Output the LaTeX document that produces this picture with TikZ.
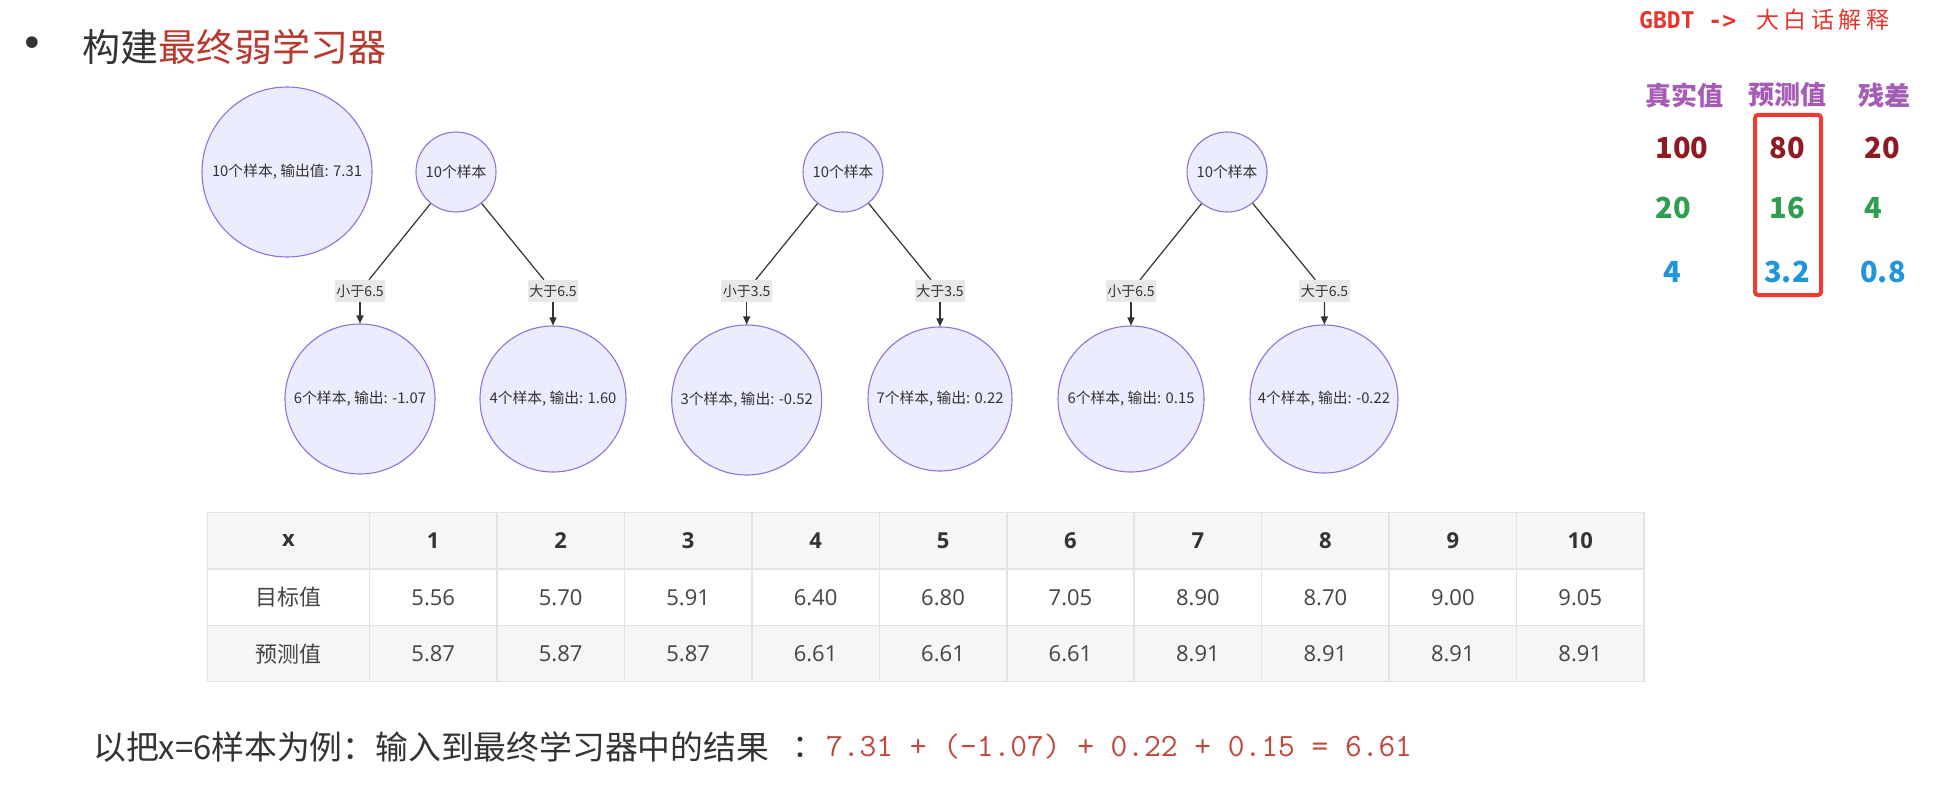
\documentclass[tikz,border=0pt]{standalone}
\usepackage{fontspec}
\setmainfont{Noto Sans CJK SC}
\newfontfamily\osans{Open Sans}
\newfontfamily\dvmono{DejaVu Sans Mono}
\newfontfamily\dvsans{DejaVu Sans}
\newfontfamily\lmmono{Latin Modern Mono}
\usetikzlibrary{arrows.meta}
\newcommand\setfs[1]{\fontsize{#1}{#1}\selectfont}
\definecolor{mstroke}{HTML}{9370DB}
\definecolor{mfill}{HTML}{ECECFF}
\definecolor{lblfill}{HTML}{E8E8E8}
\definecolor{ink}{HTML}{333333}
\definecolor{titlered}{HTML}{B8392E}
\definecolor{formred}{HTML}{C2473D}
\definecolor{gbdtred}{HTML}{E8342B}
\definecolor{hdrpurple}{HTML}{A55CB5}
\definecolor{dred}{HTML}{8E1B24}
\definecolor{dgreen}{HTML}{2E9E50}
\definecolor{dblue}{HTML}{1F96DA}
\definecolor{boxred}{HTML}{EF3B32}
\definecolor{tblgray}{HTML}{F6F6F6}
\definecolor{tblline}{HTML}{E3E3E3}
\definecolor{tbltext}{HTML}{444444}
\begin{document}
\begin{tikzpicture}[x=1pt,y=-1pt,
  circ/.style={circle, draw=mstroke, fill=mfill, line width=1.1pt, inner sep=0pt, text=ink, font=\setfs{14.8}},
  lbl/.style={fill=lblfill, inner xsep=1.5pt, inner ysep=0pt, minimum height=22pt, text=ink, font=\setfs{14}},
  edge/.style={draw=ink, line width=1.2pt},
  arr/.style={edge, -{Triangle[length=8pt,width=7pt]}},
  hdr/.style={text=hdrpurple, font=\bfseries\setfs{26}, inner sep=0pt},
  val/.style={font=\bfseries\setfs{29}, inner sep=0pt},
  cell/.style={font=\osans\setfs{22}, text=tbltext, inner sep=0pt},
  hcell/.style={font=\osans\bfseries\setfs{22}, text=ink, inner sep=0pt}
]
\useasboundingbox[fill=white] (0,0) rectangle (1936,797);

% title
\node[text=ink, font=\dvsans\setfs{40}, inner sep=0pt] (bullet) at (32,47) {•};
\node[anchor=west, font=\setfs{38}, inner sep=0pt] (title) at (82,47) {\textcolor{ink}{构建}\textcolor{titlered}{最终弱学习器}};

% initial node
\node[circ, minimum size=170pt] (big) at (287,172) {10个样本, 输出值: 7.31};

% tree 1
\node[circ, minimum size=80pt] (r1) at (456,172) {10个样本};
\node[lbl] (l1) at (360,291) {小于6.5};
\node[lbl] (l2) at (553,291) {大于6.5};
\node[circ, minimum size=150pt] (a1) at (360,399) {6个样本, 输出: -1.07};
\node[circ, minimum size=146pt] (a2) at (553,399) {4个样本, 输出: 1.60};
\draw[edge] (r1) -- (l1);
\draw[edge] (r1) -- (l2);
\draw[arr] (l1) -- (a1);
\draw[arr] (l2) -- (a2);

% tree 2
\node[circ, minimum size=80pt] (r2) at (843,172) {10个样本};
\node[lbl] (l3) at (746.7,291) {小于3.5};
\node[lbl] (l4) at (940,291) {大于3.5};
\node[circ, minimum size=150pt] (b1) at (746.7,400) {3个样本, 输出: -0.52};
\node[circ, minimum size=144pt] (b2) at (940,399) {7个样本, 输出: 0.22};
\draw[edge] (r2) -- (l3);
\draw[edge] (r2) -- (l4);
\draw[arr] (l3) -- (b1);
\draw[arr] (l4) -- (b2);

% tree 3
\node[circ, minimum size=80pt] (r3) at (1227,172) {10个样本};
\node[lbl] (l5) at (1131,291) {小于6.5};
\node[lbl] (l6) at (1324.5,291) {大于6.5};
\node[circ, minimum size=146pt] (c1) at (1131,399) {6个样本, 输出: 0.15};
\node[circ, minimum size=148pt] (c2) at (1324,399) {4个样本, 输出: -0.22};
\draw[edge] (r3) -- (l5);
\draw[edge] (r3) -- (l6);
\draw[arr] (l5) -- (c1);
\draw[arr] (l6) -- (c2);

% right panel
\node[anchor=west, inner sep=0pt, text=gbdtred] (gbdt) at (1639,20)
  {{\dvmono\bfseries\setfs{23}GBDT ->}\hspace{20pt}{\setfs{23}大\hspace{4.5pt}白\hspace{4.5pt}话\hspace{4.5pt}解\hspace{4.5pt}释}};
\node[hdr] (h1) at (1684,95) {真实值};
\node[hdr] (h2) at (1787.5,95) {预测值};
\node[hdr] (h3) at (1884,95) {残差};
\node[val, text=dred] (v11) at (1682,148) {100};
\node[val, text=dred] (v12) at (1787,148) {80};
\node[val, text=dred] (v13) at (1882,148) {20};
\node[val, text=dgreen] (v21) at (1673,208) {20};
\node[val, text=dgreen] (v22) at (1787,208) {16};
\node[val, text=dgreen] (v23) at (1873,208) {4};
\node[val, text=dblue] (v31) at (1672,272) {4};
\node[val, text=dblue] (v32) at (1787,272) {3.2};
\node[val, text=dblue] (v33) at (1883,272) {0.8};
\draw[boxred, line width=4pt, rounded corners=3pt] (1755,115) rectangle (1821,295);

% table
\fill[tblgray] (207.3,512.3) rectangle (1644,569);
\fill[white] (207.3,569) rectangle (1644,625.7);
\fill[tblgray] (207.3,625.7) rectangle (1644,681.7);
\draw[tblline, line width=1.5pt] (207.3,512.3) rectangle (1644,681.7);
\draw[tblline, line width=1.5pt] (207.3,569) -- (1644,569);
\draw[tblline, line width=1.5pt] (207.3,625.7) -- (1644,625.7);
\foreach \k in {0,...,9} {
  \draw[tblline, line width=1.5pt] ({369.5+127.45*\k},512.3) -- ({369.5+127.45*\k},681.7);
}
\node[hcell] (t00) at (288.4,540.6) {x};
\node[cell] (t10) at (288.4,597.4) {\rmfamily 目标值};
\node[cell] (t20) at (288.4,653.8) {\rmfamily 预测值};
\foreach \h [count=\i] in {1,2,3,4,5,6,7,8,9,10} {
  \node[hcell] (t0\i) at ({369.5+127.45*(\i-0.5)},540.6) {\h};
}
\foreach \v [count=\i] in {5.56,5.70,5.91,6.40,6.80,7.05,8.90,8.70,9.00,9.05} {
  \node[cell] (t1\i) at ({369.5+127.45*(\i-0.5)},597.4) {\v};
}
\foreach \v [count=\i] in {5.87,5.87,5.87,6.61,6.61,6.61,8.91,8.91,8.91,8.91} {
  \node[cell] (t2\i) at ({369.5+127.45*(\i-0.5)},653.8) {\v};
}

% bottom sentence
\node[anchor=west, inner sep=0pt, text=ink, font=\setfs{32.8}] (cap) at (93,747) {以把x=6样本为例：输入到最终学习器中的结果};
\node[inner sep=0pt, text=ink, font=\setfs{32}] (colon) at (808,747) {：};
\node[anchor=west, inner sep=0pt, text=formred, font=\lmmono\setfs{32.5}] (form) at (826,747) {7.31 + (-1.07) + 0.22 + 0.15 = 6.61};
\end{tikzpicture}
\end{document}
